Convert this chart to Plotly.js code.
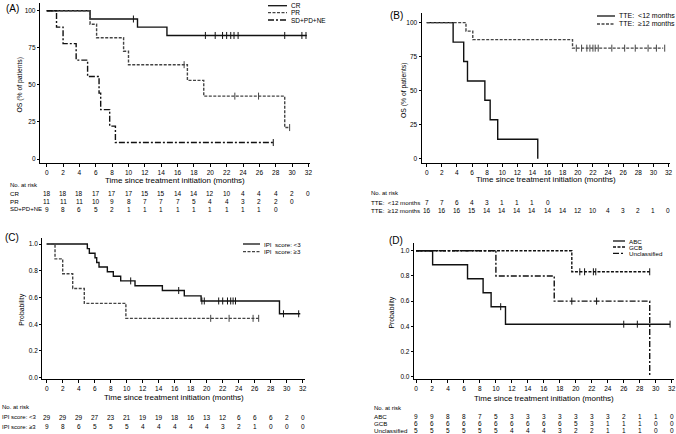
<!DOCTYPE html>
<html><head><meta charset="utf-8">
<script src="https://cdn.plot.ly/plotly-3.0.1.min.js"></script>
<style>html,body{margin:0;padding:0;background:#fff}#c{width:676px;height:434px}</style>
</head><body><div id="c"></div>
<script>
// ---------- DATA ----------
const months = [0,2,4,6,8,10,12,14,16,18,20,22,24,26,28,30,32];
// Panel A: OS by response (%)
const crT = [0,5.3,11.1,14.7,31.8];
const crS = [100,94.4,88.9,83.3,83.3];
const crC = [10.6,19.4,20.6,21.5,22.0,22.5,22.9,23.4,29.1,31.2,31.7];
const prT = [0,5.3,6.1,9.4,10.0,17.2,19.2,29.1,29.7];
const prS = [100,90.9,81.8,72.7,63.6,53.0,42.4,21.2,21.2];
const prC = [16.8,23.0,25.9,29.7];
const sdT = [0,1.2,2.0,3.6,5.0,6.4,6.6,7.7,8.4,27.7];
const sdS = [100,88.9,77.8,66.7,55.6,44.4,33.3,22.2,11.1,11.1];
const sdC = [27.7];
const riskCR = [18,18,18,17,17,17,15,15,14,14,12,10,4,4,4,2,0];
const riskPR = [11,11,11,10,9,8,7,7,7,5,4,4,3,2,2,0];
const riskSD = [9,8,6,5,2,1,1,1,1,1,1,1,1,1,0];
// Panel B: OS by TTE (%)
const ltT = [0,3.5,4.9,5.4,7.7,8.4,9.4,14.7];
const ltS = [100,85.7,71.4,57.1,42.9,28.6,14.3,0];
const geT = [0,5.2,6.1,19.3,31.3];
const geS = [100,93.75,87.5,81.25,81.25];
const geC = [19.8,20.5,21.2,21.6,22.0,22.3,22.7,24.5,26.2,27.6,29.3,30.4,31.5];
const riskLT = [7,7,6,4,3,1,1,1,0];
const riskGE = [16,16,16,15,14,14,14,14,14,14,12,10,4,3,2,1,0];
// Panel C: IPI score (probability)
const ipiLoT = [0,5.08,5.33,6.04,6.25,6.54,7.58,8.33,9.25,11.04,14.46,17.2,19.3,29.1,31.7];
const ipiLoS = [1,0.966,0.931,0.897,0.862,0.828,0.793,0.759,0.724,0.688,0.652,0.612,0.574,0.478,0.478];
const ipiLoC = [10.5,16.5,19.4,19.7,21.5,22.0,22.6,23.0,23.3,23.6,29.6,31.5];
const ipiHiT = [0,1.04,2.0,3.25,4.7,9.9,26.5];
const ipiHiS = [1,0.889,0.778,0.667,0.556,0.444,0.444];
const ipiHiC = [20.5,22.8,25.8,26.5];
const riskIpiLo = [29,29,29,27,23,21,19,19,18,16,13,12,6,6,6,2,0];
const riskIpiHi = [9,8,6,5,5,5,4,4,4,4,4,3,2,1,0,0,0];
// Panel D: cell of origin (probability)
const abcT = [0,2.08,6.45,8.4,9.4,11.2,31.8];
const abcS = [1,0.889,0.778,0.667,0.556,0.417,0.417];
const abcC = [10.6,26.0,27.7,31.8];
const gcbT = [0,19.5,29.25];
const gcbS = [1,0.833,0.833];
const gcbC = [20.5,21.1,22.2,22.5,29.25];
const uncT = [0,10.0,17.3,29.25];
const uncS = [1,0.8,0.6,0];
const uncC = [19.5,22.6];
const riskABC = [9,9,8,8,7,5,3,3,3,3,3,3,3,2,1,1,0];
const riskGCB = [6,6,6,6,6,6,6,6,6,6,5,3,1,1,1,0,0];
const riskUNC = [5,5,5,5,5,5,4,4,4,3,2,2,1,1,1,0,0];

// ---------- HELPERS ----------
const W = 676, H = 434;
const px = p => p / W, py = p => 1 - p / H;
const FONT = 'Liberation Sans, Arial, sans-serif';
function stepAt(T, S, t){ let v = S[0]; for (let i=0;i<T.length;i++){ if (T[i] <= t) v = S[i]; } return v; }
const traces = [];
function km(T, S, C, ax, dash, color){
  traces.push({x:T, y:S, xaxis:'x'+ax, yaxis:'y'+ax, mode:'lines', line:{shape:'hv', color:color, width:1.4, dash:dash}, hoverinfo:'skip', showlegend:false});
  traces.push({x:C, y:C.map(t=>stepAt(T,S,t)), xaxis:'x'+ax, yaxis:'y'+ax, mode:'markers', marker:{symbol:'line-ns-open', size:5, color:color, line:{width:1, color:color}}, hoverinfo:'skip', showlegend:false});
}
const SOLID='solid', DASH='3px,1.5px', DDOT='6px,2px,2px,2px';
const K='#111', G='#444';
km(crT,crS,crC,'',SOLID,K); km(prT,prS,prC,'',DASH,G); km(sdT,sdS,sdC,'',DDOT,K);
km(ltT,ltS,[],'2',SOLID,K); km(geT,geS,geC,'2',DASH,G);
km(ipiLoT,ipiLoS,ipiLoC,'3',SOLID,K); km(ipiHiT,ipiHiS,ipiHiC,'3',DASH,G);
km(abcT,abcS,abcC,'4',SOLID,K); km(gcbT,gcbS,gcbC,'4',DASH,K); km(uncT,uncS,uncC,'4',DDOT,K);

function xax(x0,x1,r){ return {domain:[px(x0),px(x1)], range:r, showline:true, linecolor:'#000', linewidth:1.2, ticks:'outside', ticklen:3, tickwidth:1, tickcolor:'#000', tickvals:months, tickfont:{family:FONT,size:6.5,color:'#000'}, showgrid:false, zeroline:false, fixedrange:true}; }
function yax(y0,y1,r,vals,fmt){ return {domain:[py(y1),py(y0)], range:r, showline:true, linecolor:'#000', linewidth:1.2, ticks:'outside', ticklen:2, tickwidth:1, tickcolor:'#000', tickvals:vals, tickformat:fmt, tickfont:{family:FONT,size:6.5,color:'#000'}, showgrid:false, zeroline:false, fixedrange:true}; }
const pct=[0,25,50,75,100], prob=[0,0.2,0.4,0.6,0.8,1.0];

const ann = [], shapes = [];
function txt(x, y, s, size, opts){ ann.push(Object.assign({xref:'paper', yref:'paper', x:px(x), y:py(y), text:s, showarrow:false, xanchor:'left', yanchor:'middle', font:{family:FONT,size:size,color:'#000'}}, opts||{})); }
function riskRow(ax, vals, y){ vals.forEach((v,i)=>ann.push({xref:'x'+ax, yref:'paper', x:months[i], y:py(y), text:String(v), showarrow:false, xanchor:'center', yanchor:'middle', font:{family:FONT,size:6.5,color:'#000'}})); }
function xtitle(ax, y){ ann.push({xref:'x'+ax+' domain', yref:'paper', x:0.5, y:py(y), text:'Time since treatment initiation (months)', showarrow:false, xanchor:'center', yanchor:'middle', font:{family:FONT,size:8,color:'#000'}}); }
function ytitle(x, y, s){ ann.push({xref:'paper', yref:'paper', x:px(x), y:py(y), text:s, textangle:-90, showarrow:false, xanchor:'center', yanchor:'middle', font:{family:FONT,size:6.8,color:'#000'}}); }
function leg(x0,x1,y,dash,color,label,size){ shapes.push({type:'line', xref:'paper', yref:'paper', x0:px(x0), x1:px(x1), y0:py(y), y1:py(y), line:{color:color, width:1.3, dash:dash}}); txt(x1+2, y, label, size); }

// Panel labels
txt(4, 8, '(A)', 10); txt(388, 15, '(B)', 10); txt(3, 238, '(C)', 10); txt(387, 240, '(D)', 10);
// Axis titles
xtitle('', 180); xtitle('2', 179.5); xtitle('3', 397.7); xtitle('4', 398.3);
ytitle(19.5, 85, 'OS (% of patients)'); ytitle(404, 90, 'OS (% of patients)');
ytitle(21.7, 310, 'Probability'); ytitle(391.5, 313, 'Probability');
// Legends
leg(268,287,5.7,SOLID,K,'CR',6.5); leg(268,287,12.7,DASH,G,'PR',6.5); leg(268,287,20,DDOT,K,'SD+PD+NE',6.5);
leg(597,615,16,SOLID,K,'TTE:  &lt;12 months',7); leg(597,615,24,DASH,G,'TTE:  ≥12 months',7);
leg(243,260,244,SOLID,K,'IPI  score: &lt;3',6.2); leg(243,260,251.7,DASH,G,'IPI  score: ≥3',6.2);
leg(613,625,241,SOLID,K,'ABC',6.2); leg(613,625,247,DASH,K,'GCB',6.2); leg(613,625,253.3,DDOT,K,'Unclassified',6.2);
// At-risk tables
txt(8,185,'No. at risk',6); txt(8,194,'CR',6.2); txt(8,201.7,'PR',6.2); txt(8,209.3,'SD+PD+NE',6);
riskRow('',riskCR,194); riskRow('',riskPR,201.7); riskRow('',riskSD,209.3);
txt(369,193.3,'No. at risk',6); txt(369,202.3,'TTE:  &lt;12 months',6.2); txt(369,211,'TTE:  ≥12 months',6.2);
riskRow('2',riskLT,202.3); riskRow('2',riskGE,211);
txt(0,407.3,'No. at risk',6); txt(0,417.3,'IPI score: &lt;3',6); txt(0,426.7,'IPI score: ≥3',6);
riskRow('3',riskIpiLo,417.3); riskRow('3',riskIpiHi,426.7);
txt(371.5,408.3,'No. at risk',6); txt(371.5,416.7,'ABC',6.2); txt(371.5,423.3,'GCB',6.2); txt(371.5,430.7,'Unclassified',6.2);
riskRow('4',riskABC,416.7); riskRow('4',riskGCB,423.3); riskRow('4',riskUNC,430.7);

const layout = {
  width:W, height:H, margin:{l:0,r:0,t:0,b:0}, paper_bgcolor:'#fff', plot_bgcolor:'#fff', showlegend:false,
  font:{family:FONT,color:'#000'},
  xaxis: Object.assign(xax(40,310,[-0.82,32.19]),{anchor:'y'}),
  yaxis: Object.assign(yax(3,163,[-2.7,105.2],pct,''),{anchor:'x'}),
  xaxis2: Object.assign(xax(421.7,670,[-0.66,32.2]),{anchor:'y2'}),
  yaxis2: Object.assign(yax(13,163,[-3.2,107.1],pct,''),{anchor:'x2'}),
  xaxis3: Object.assign(xax(42.3,305,[-0.55,32.29]),{anchor:'y3'}),
  yaxis3: Object.assign(yax(238.3,379,[-0.01,1.043],prob,'.1f'),{anchor:'x3'}),
  xaxis4: Object.assign(xax(414,674,[-0.25,32.29]),{anchor:'y4'}),
  yaxis4: Object.assign(yax(243.3,379,[-0.018,1.059],prob,'.1f'),{anchor:'x4'}),
  annotations: ann, shapes: shapes
};
Plotly.newPlot('c', traces, layout, {staticPlot:true, displayModeBar:false});
</script></body></html>
